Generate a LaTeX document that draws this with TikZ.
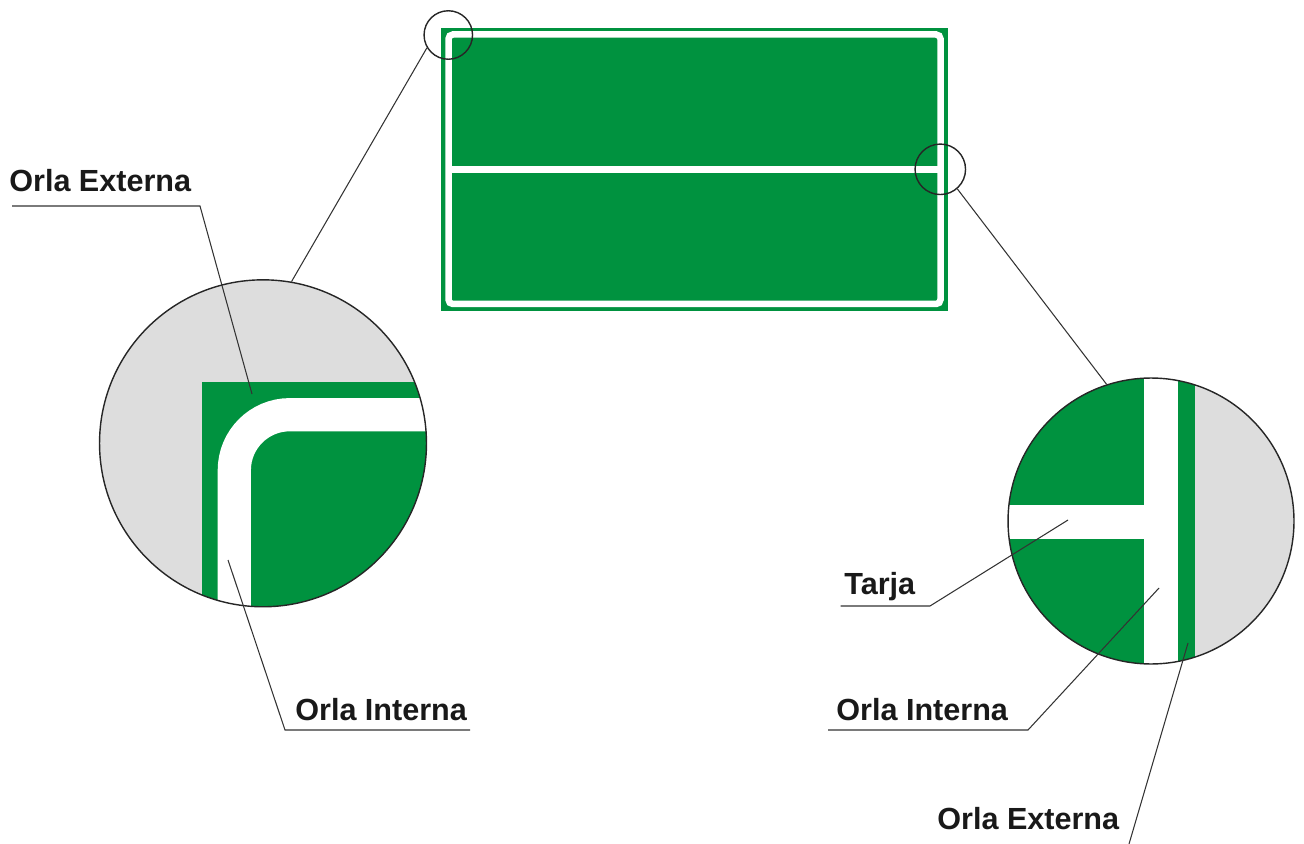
\documentclass[tikz,border=0pt]{standalone}
\usepackage{fontspec}
\setmainfont{Liberation Sans}
\usetikzlibrary{positioning}
\definecolor{signgreen}{RGB}{0,146,63}
\definecolor{lensgray}{RGB}{221,221,221}

\begin{document}
\begin{tikzpicture}[
    x=0.02cm, y=-0.02cm,
    tag/.style={font=\bfseries\fontsize{17.4}{20}\selectfont, text=black!90,
                inner sep=0pt, anchor=base west},
    leader/.style={draw=black!80, line width=0.6pt},
    lens/.style={circle, draw=black!85, line width=0.8pt, inner sep=0pt},
    orla/.style={draw=white, line width=3.7pt, rounded corners=2.5pt},
    tarja/.style={draw=white, line width=4.3pt}
]
    \useasboundingbox (0,0) rectangle (1304,844);

    % Sign
    \fill[signgreen] (441,28) rectangle (948,311);
    \draw[orla] (448.5,34.5) rectangle (940.5,304);
    \draw[tarja] (448.5,169.5) -- (940.5,169.5);

    % Small lenses on the sign
    \node[lens, minimum size=0.97cm] (lensA) at (448.3,35) {};
    \node[lens, minimum size=1.01cm] (lensB) at (940.3,169.3) {};

    % Left zoom (corner)
    \begin{scope}
        \clip (263,443.3) circle[radius=3.27cm];
        \fill[lensgray] (263,443.3) circle[radius=3.27cm];
        \fill[signgreen] (201.7,381.7) rectangle (450,640);
        \draw[white, line width=18.9pt, rounded corners=1.11cm]
            (234.3,640) -- (234.3,414.7) -- (450,414.7);
    \end{scope}
    \node[lens, minimum size=6.54cm] (bigA) at (263,443.3) {};

    % Right zoom (tarja)
    \begin{scope}
        \clip (1151,521) circle[radius=2.86cm];
        \fill[lensgray] (1151,521) circle[radius=2.86cm];
        \fill[signgreen] (1000,370) rectangle (1195,680);
        \fill[white] (1144.3,370) rectangle (1178.3,680);
        \fill[white] (1000,505) rectangle (1144.3,539);
    \end{scope}
    \node[lens, minimum size=5.72cm] (bigB) at (1151,521) {};

    % Lens connectors
    \draw[leader] (lensA.211) -- (bigA.80);
    \draw[leader] (lensB.-49) -- (bigB.108);

    % Labels
    \node[tag] (extA) at (9,192) {Orla Externa};
    \coordinate (extA-l) at (12,206);
    \coordinate (extA-k) at (200,206);
    \coordinate (extA-t) at (252,394);
    \draw[leader] (extA-l) -- (extA-k) -- (extA-t);

    \node[tag] (intA) at (295,720) {Orla Interna};
    \coordinate (intA-t) at (228,560);
    \coordinate (intA-k) at (285,730);
    \coordinate (intA-r) at (470,730);
    \draw[leader] (intA-t) -- (intA-k) -- (intA-r);

    \node[tag] (tarB) at (844,594) {Tarja};
    \coordinate (tarB-l) at (840.7,606);
    \coordinate (tarB-k) at (930,606);
    \coordinate (tarB-t) at (1068,520);
    \draw[leader] (tarB-l) -- (tarB-k) -- (tarB-t);

    \node[tag] (intB) at (836,720) {Orla Interna};
    \coordinate (intB-l) at (828,730);
    \coordinate (intB-k) at (1028,730);
    \coordinate (intB-t) at (1159,588);
    \draw[leader] (intB-l) -- (intB-k) -- (intB-t);

    \node[tag] (extB) at (937,829) {Orla Externa};
    \coordinate (extB-t) at (1188,643);
    \coordinate (extB-b) at (1129,844);
    \draw[leader] (extB-t) -- (extB-b);
\end{tikzpicture}
\end{document}
